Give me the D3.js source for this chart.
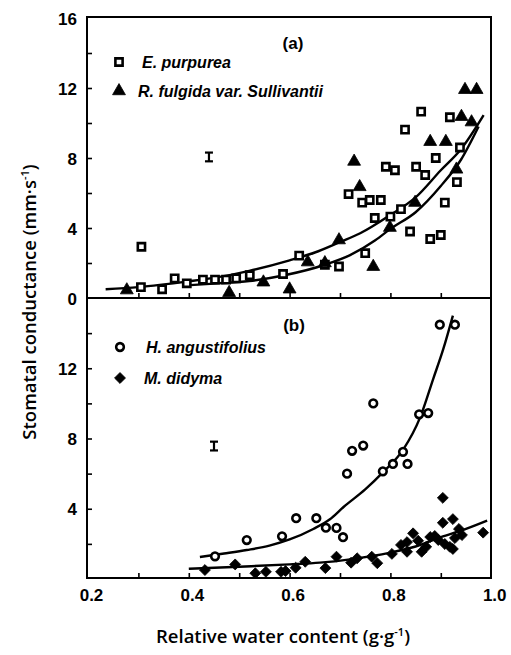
<!DOCTYPE html>
<html><head><meta charset="utf-8">
<script src="https://cdn.jsdelivr.net/npm/d3@7"></script>
<style>
html,body{margin:0;padding:0;background:#fff;}
svg{display:block;}
</style></head>
<body>
<svg id="chart" width="511" height="655"></svg>
<script>
// ---------- data (relative water content, stomatal conductance) ----------
const purpureaRWC = [0.306,0.305,0.347,0.372,0.396,0.428,0.452,0.474,0.494,0.521,0.587,0.619,0.670,0.698,0.717,0.744,0.759,0.781,0.769,0.750,0.791,0.809,0.800,0.821,0.829,0.839,0.851,0.861,0.869,0.879,0.890,0.900,0.908,0.918,0.932,0.938];
const purpureaG   = [2.93,0.62,0.50,1.12,0.84,1.05,1.05,1.05,1.12,1.30,1.37,2.42,1.90,1.80,5.94,5.45,5.60,5.60,4.57,2.56,7.50,7.30,4.65,5.08,9.62,3.80,7.50,10.65,7.03,3.37,8.00,3.60,5.45,10.33,6.62,8.60];
const fulgidaRWC  = [0.277,0.480,0.548,0.600,0.636,0.670,0.698,0.728,0.739,0.766,0.799,0.849,0.879,0.910,0.931,0.941,0.961,0.948,0.971];
const fulgidaG    = [0.45,0.30,0.90,0.50,2.05,2.00,3.31,7.80,6.35,1.79,4.02,5.45,8.93,8.93,7.35,10.36,10.05,11.90,11.90];
const angustRWC   = [0.452,0.515,0.585,0.613,0.653,0.672,0.693,0.706,0.714,0.724,0.746,0.766,0.785,0.805,0.825,0.834,0.857,0.875,0.898,0.928];
const angustG     = [1.29,2.22,2.43,3.46,3.46,2.92,2.91,2.38,6.00,7.30,7.60,10.00,6.13,6.55,7.24,6.55,9.38,9.45,14.48,14.48];
const didymaRWC   = [0.432,0.492,0.532,0.553,0.583,0.592,0.612,0.631,0.671,0.693,0.722,0.734,0.763,0.774,0.803,0.821,0.833,0.845,0.833,0.855,0.862,0.871,0.879,0.888,0.895,0.904,0.904,0.908,0.918,0.924,0.928,0.924,0.936,0.942,0.984];
const didymaG     = [0.51,0.83,0.33,0.41,0.41,0.45,0.64,0.98,0.62,1.27,0.93,1.18,1.27,0.90,1.43,1.94,2.10,2.60,1.55,2.18,1.55,1.83,2.39,2.45,2.22,4.62,3.20,1.99,1.83,3.41,2.33,1.71,2.85,2.50,2.64];

// fitted curves
const fitUpperARWC = [0.235,0.30,0.40,0.45,0.52,0.60,0.65,0.70,0.74,0.80,0.85,0.90,0.94,0.985];
const fitUpperAG   = [0.50,0.62,0.95,1.15,1.55,2.15,2.60,3.20,3.70,4.75,5.75,7.30,8.50,10.45];
const fitLowerARWC = [0.395,0.45,0.52,0.59,0.67,0.72,0.77,0.80,0.85,0.90,0.94,0.975];
const fitLowerAG   = [0.72,0.82,0.97,1.30,1.90,2.45,3.30,3.95,4.90,6.40,7.90,9.80];
const fitAngustRWC = [0.422,0.47,0.515,0.56,0.60,0.647,0.68,0.707,0.75,0.786,0.825,0.859,0.885,0.905,0.924];
const fitAngustG   = [1.25,1.45,1.65,1.90,2.25,2.85,3.40,4.10,5.10,6.10,7.35,9.20,11.40,13.10,15.00];
const fitDidymaRWC = [0.40,0.50,0.60,0.66,0.72,0.80,0.85,0.90,0.95,0.992];
const fitDidymaG   = [0.58,0.70,0.83,0.93,1.12,1.50,1.85,2.38,2.85,3.32];

// representative error bars
const errRWC  = [0.44, 0.45];
const errG    = [8.06, 7.57];
const errHalf = [0.25, 0.25];

// labels
const panelLabels = ["(a)", "(b)"];
const legendA = ["E. purpurea", "R. fulgida var. Sullivantii"];
const legendB = ["H. angustifolius", "M. didyma"];
const xTickLabels = [0.2, 0.4, 0.6, 0.8, 1.0];
const xMinorTicks = [0.3, 0.4, 0.5, 0.6, 0.7, 0.8, 0.9];
const yMinorTicks = [2, 4, 6, 8, 10, 12, 14];
const yTickLabelsTop = [0, 4, 8, 12, 16];
const yTickLabelsBottom = [4, 8, 12];

// ---------- drawing ----------
const svg = d3.select("#chart");
const L = 87, R = 491;
const x = d3.scaleLinear().domain([0.2, 1.0]).range([88, 491.2]);
const yTop = d3.scaleLinear().domain([0, 16]).range([298, 18]);
const yBot = d3.scaleLinear().domain([0, 16]).range([579, 298]);

const zip = (a, b) => a.map((v, i) => [v, b[i]]);
const black = "#000";

function panel(y, topY, botY) {
  const g = svg.append("g");
  g.append("rect").attr("x", L).attr("y", topY).attr("width", R - L).attr("height", botY - topY)
    .attr("fill", "none").attr("stroke", black).attr("stroke-width", 2);
  const ax = d3.axisLeft(y).tickValues(yMinorTicks).tickSize(-5).tickFormat("");
  const ga = g.append("g").attr("transform", `translate(${L},0)`).call(ax);
  ga.select(".domain").remove();
  ga.selectAll("line").attr("stroke-width", 1.6);
  const bx = d3.axisBottom(x).tickValues(xMinorTicks).tickSize(-5).tickFormat("");
  const gb = g.append("g").attr("transform", `translate(0,${botY})`).call(bx);
  gb.select(".domain").remove();
  gb.selectAll("line").attr("stroke-width", 1.6);
  return g;
}

const gA = panel(yTop, 17, 298);
const gB = panel(yBot, 298, 578);

function yLabels(y, vals) {
  const ax = d3.axisLeft(y).tickValues(vals).tickSize(0).tickPadding(0).tickFormat(d3.format("d"));
  const g = svg.append("g").attr("transform", "translate(77,0)").call(ax);
  g.select(".domain").remove();
  g.selectAll("text").attr("font-family", "Liberation Sans, Arial, sans-serif")
    .attr("font-weight", "bold").attr("font-size", 17).attr("fill", black).attr("dy", "0.36em");
}
yLabels(yTop, yTickLabelsTop);
yLabels(yBot, yTickLabelsBottom);

{
  const ax = d3.axisBottom(x).tickValues(xTickLabels).tickSize(0).tickPadding(0).tickFormat(d3.format(".1f"));
  const g = svg.append("g").attr("transform", "translate(3,589)").call(ax);
  g.select(".domain").remove();
  g.selectAll("text").attr("font-family", "Liberation Sans, Arial, sans-serif")
    .attr("font-weight", "bold").attr("font-size", 17).attr("fill", black).attr("dy", "0.71em");
}

const titleFont = "'Open Sans', 'Noto Sans', sans-serif";
{
  const t = svg.append("text").attr("transform", "translate(36,302) rotate(-90)")
    .attr("text-anchor", "middle").attr("font-family", titleFont).attr("font-weight", 600)
    .attr("font-size", 18.5).attr("fill", black);
  t.append("tspan").text("Stomatal conductance (mm·s");
  t.append("tspan").attr("font-size", 11).attr("dy", -7).text("-1");
  t.append("tspan").attr("dy", 7).text(")");
}
{
  const t = svg.append("text").attr("transform", "translate(283,643)")
    .attr("text-anchor", "middle").attr("font-family", titleFont).attr("font-weight", 600)
    .attr("font-size", 18.5).attr("fill", black);
  t.append("tspan").text("Relative water content (g·g");
  t.append("tspan").attr("font-size", 11).attr("dy", -7).text("-1");
  t.append("tspan").attr("dy", 7).text(")");
}

function curve(g, y, xs, ys) {
  const line = d3.line().x(d => x(d[0])).y(d => y(d[1])).curve(d3.curveMonotoneX);
  g.append("path").datum(zip(xs, ys)).attr("d", line)
    .attr("fill", "none").attr("stroke", black).attr("stroke-width", 2.4);
}
curve(gA, yTop, fitUpperARWC, fitUpperAG);
curve(gA, yTop, fitLowerARWC, fitLowerAG);
curve(gB, yBot, fitAngustRWC, fitAngustG);
curve(gB, yBot, fitDidymaRWC, fitDidymaG);

// symbols
const wideDiamond = {
  draw(ctx, size) {
    const r = Math.sqrt(size / 2);
    ctx.moveTo(0, -r); ctx.lineTo(r, 0); ctx.lineTo(0, r); ctx.lineTo(-r, 0); ctx.closePath();
  }
};
const sq = d3.symbol().type(d3.symbolSquare).size(52);
const tri = d3.symbol().type(d3.symbolTriangle).size(72);
const dia = d3.symbol().type(wideDiamond).size(60);
const circ = d3.symbol().type(d3.symbolCircle).size(46);

function points(g, y, xs, ys, sym, filled) {
  g.selectAll(null).data(zip(xs, ys)).enter().append("path")
    .attr("transform", d => `translate(${x(d[0])},${y(d[1])})`)
    .attr("d", sym)
    .attr("fill", filled ? black : "#fff")
    .attr("stroke", black).attr("stroke-width", filled ? 0.8 : 2.6);
}
points(gA, yTop, purpureaRWC, purpureaG, sq, false);
points(gA, yTop, fulgidaRWC, fulgidaG, tri, true);
points(gB, yBot, angustRWC, angustG, circ, false);
points(gB, yBot, didymaRWC, didymaG, dia, true);

[[yTop, 0], [yBot, 1]].forEach(([y, i]) => {
  const cx = x(errRWC[i]), y1 = y(errG[i] + errHalf[i]), y2 = y(errG[i] - errHalf[i]);
  const e = svg.append("g").attr("stroke", black).attr("stroke-width", 2.2);
  e.append("line").attr("x1", cx).attr("x2", cx).attr("y1", y1).attr("y2", y2);
  e.append("line").attr("x1", cx - 4).attr("x2", cx + 4).attr("y1", y1).attr("y2", y1);
  e.append("line").attr("x1", cx - 4).attr("x2", cx + 4).attr("y1", y2).attr("y2", y2);
});

const labFont = "Liberation Sans, Arial, sans-serif";
svg.append("text").attr("x", 293).attr("y", 49).attr("text-anchor", "middle")
  .attr("font-family", labFont).attr("font-weight", "bold").attr("font-size", 17).text(panelLabels[0]);
svg.append("text").attr("x", 294).attr("y", 331).attr("text-anchor", "middle")
  .attr("font-family", labFont).attr("font-weight", "bold").attr("font-size", 17).text(panelLabels[1]);

function legendEntry(sym, filled, sx, sy, tx, label) {
  svg.append("path").attr("transform", `translate(${sx},${sy})`).attr("d", sym)
    .attr("fill", filled ? black : "#fff").attr("stroke", black).attr("stroke-width", filled ? 0.8 : 2.6);
  svg.append("text").attr("x", tx).attr("y", sy).attr("dy", "0.35em")
    .attr("font-family", labFont).attr("font-weight", "bold").attr("font-style", "italic")
    .attr("font-size", 16).attr("fill", black).text(label);
}
legendEntry(sq, false, 119, 62, 142, legendA[0]);
legendEntry(tri, true, 119, 91, 138, legendA[1]);
legendEntry(circ, false, 120, 347, 146, legendB[0]);
legendEntry(dia, true, 120, 378, 144, legendB[1]);
</script>
</body></html>
